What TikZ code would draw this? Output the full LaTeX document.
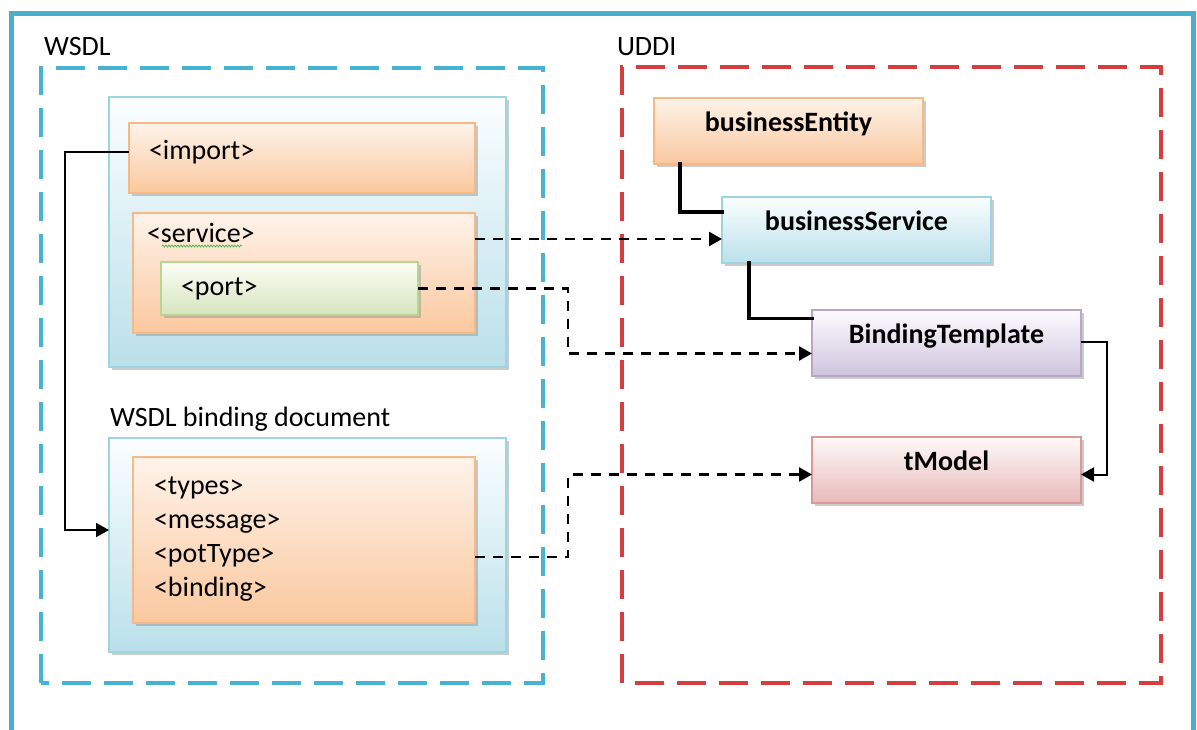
\documentclass[tikz,border=0pt]{standalone}
\usepackage{fontspec}
\setmainfont{Carlito}
\usetikzlibrary{arrows.meta,shadows,decorations.pathmorphing}

\definecolor{framecyan}{RGB}{72,176,204}
\definecolor{wsdlcyan}{RGB}{70,180,208}
\definecolor{uddired}{RGB}{212,62,62}
\definecolor{orTop}{RGB}{254,243,234}
\definecolor{orBot}{RGB}{250,200,158}
\definecolor{orLine}{RGB}{246,184,132}
\definecolor{blTop}{RGB}{251,254,255}
\definecolor{blBot}{RGB}{186,224,234}
\definecolor{blLine}{RGB}{158,212,226}
\definecolor{grTop}{RGB}{251,253,246}
\definecolor{grBot}{RGB}{214,229,190}
\definecolor{grLine}{RGB}{186,212,146}
\definecolor{puTop}{RGB}{253,251,255}
\definecolor{puBot}{RGB}{206,196,221}
\definecolor{puLine}{RGB}{182,166,202}
\definecolor{piTop}{RGB}{255,249,249}
\definecolor{piBot}{RGB}{231,186,186}
\definecolor{piLine}{RGB}{218,152,150}
\definecolor{squiggle}{RGB}{90,180,80}

\begin{document}
\begin{tikzpicture}[
  x=1pt, y=-1pt,
  font=\fontsize{28}{34}\selectfont,
  every node/.style={inner sep=0pt, outer sep=0pt},
  shadowed/.style={drop shadow={shadow xshift=3pt, shadow yshift=-3pt, fill=black!45, opacity=0.45}},
  box/.style={rectangle, draw, line width=1.4pt, shadowed, anchor=north west},
  orangebox/.style={box, draw=orLine, top color=orTop, bottom color=orBot},
  bluebox/.style={box, draw=blLine, top color=blTop, bottom color=blBot},
  greenbox/.style={box, draw=grLine, top color=grTop, bottom color=grBot},
  purplebox/.style={box, draw=puLine, top color=puTop, bottom color=puBot},
  pinkbox/.style={box, draw=piLine, top color=piTop, bottom color=piBot},
  entity/.style={font=\fontsize{28}{34}\selectfont\bfseries, text height=0.66em, text depth=0.5em,
                 minimum width=269pt, minimum height=66pt},
  lbl/.style={anchor=west},
  group/.style={line width=3.2pt, dash pattern=on 29pt off 13pt},
  solidlink/.style={line width=3.4pt, line cap=rect},
  thinlink/.style={line width=2pt},
  dlink/.style={line width=2.6pt, dash pattern=on 10pt off 8pt},
  tip/.style={-{Triangle[length=13pt,width=14pt]}}
]
\useasboundingbox (0,0) rectangle (1197,729);
\fill[white] (0,0) rectangle (1197,729);

% outer frame
\draw[framecyan, line width=5pt] (11,735) -- (11,13) -- (1193,13) -- (1193,735);

% group captions and dashed group borders
\node[lbl] (wsdlcap) at (44,47) {WSDL};
\node[lbl] (uddicap) at (617,47) {UDDI};
\draw[group, wsdlcyan] (41,683) -- (41,68) -- (543,68) -- (543,683) -- cycle;
\draw[group, uddired] (622,683) -- (622,67) -- (1161,67) -- (1161,683) -- cycle;

% WSDL service document
\node[bluebox, minimum width=397pt, minimum height=270pt] (svcpanel) at (109,97) {};
\node[orangebox, minimum width=346pt, minimum height=70pt] (imp) at (129,123) {};
\node[lbl] (imptxt) at (149,152) {<import>};
\node[orangebox, minimum width=342pt, minimum height=120pt] (svc) at (133,213) {};
\node[lbl] (svctxt) at (147,233) {<service>};
\draw[squiggle, line width=0.8pt, decorate, decoration={snake, amplitude=1pt, segment length=3pt}] (162,246) -- (242,246);
\node[greenbox, minimum width=257pt, minimum height=53pt] (port) at (161,262) {};
\node[lbl] (porttxt) at (181,289) {<port>};

% WSDL binding document
\node[lbl] (bindcap) at (110,419) {WSDL binding document};
\node[bluebox, minimum width=397pt, minimum height=214pt] (bindpanel) at (109,438) {};
\node[orangebox, minimum width=342pt, minimum height=166pt] (binddoc) at (133,457) {};
\node[lbl, align=left] (bindtxt) at (154,539) {<types>\\<message>\\<potType>\\<binding>};

% UDDI entities
\node[orangebox, entity] (be) at (654,98) {businessEntity};
\node[bluebox, entity] (bs) at (722,197) {businessService};
\node[purplebox, entity] (bt) at (812,310) {BindingTemplate};
\node[pinkbox, entity] (tm) at (812,437) {tModel};

% UDDI containment links
\draw[solidlink] ([xshift=26pt]be.south west) |- ([yshift=18pt]bs.west);
\draw[solidlink] ([xshift=27pt]bs.south west) |- ([yshift=24.5pt]bt.west);
\draw[thinlink, tip] ([yshift=1.5pt]bt.east) -- ++(26,0) |- ([yshift=-4.5pt]tm.east);

% WSDL to UDDI mappings
\coordinate (jog) at (568,0);
\draw[dlink, tip] ([yshift=34pt]svc.east) -- ([yshift=34pt]svc.east -| bs.west);
\draw[dlink, tip] (port.east) -| ([yshift=-10.5pt]bt.west -| jog) -- ([yshift=-10.5pt]bt.west);
\draw[dlink, tip] ([yshift=-17pt]binddoc.east) -| ([yshift=-4.5pt]tm.west -| jog) -- ([yshift=-4.5pt]tm.west);

% import refers to the binding document
\coordinate (imprail) at (65,0);
\draw[thinlink, tip] ([yshift=6pt]imp.west) -| ([yshift=15pt]bindpanel.west -| imprail) -- ([yshift=15pt]bindpanel.west);
\end{tikzpicture}
\end{document}
